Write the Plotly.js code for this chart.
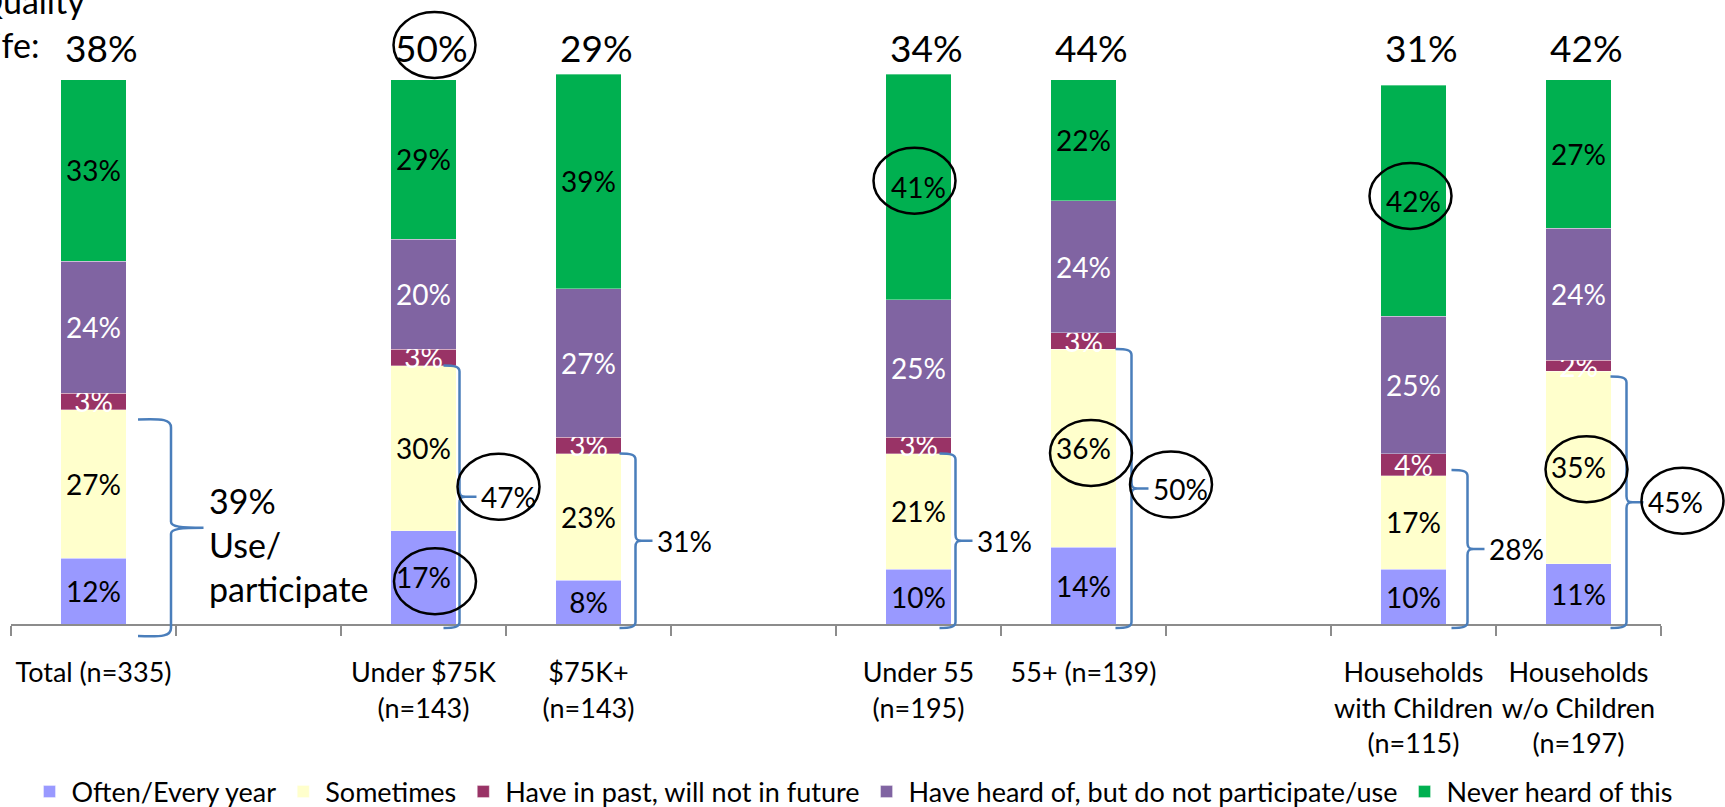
<!DOCTYPE html>
<html>
<head>
<meta charset="utf-8">
<script src="https://cdn.plot.ly/plotly-3.0.1.min.js"></script>
<style>
html,body{margin:0;padding:0;background:#fff;}
#chart{width:1725px;height:807px;}
</style>
</head>
<body>
<div id="chart"></div>
<script>
// ---------------- DATA ----------------
const categories = [
  'Total (n=335)', ' ', 'Under $75K<br>(n=143)', '$75K+<br>(n=143)', '  ',
  'Under 55<br>(n=195)', '55+ (n=139)', '   ',
  'Households<br>with Children<br>(n=115)', 'Households<br>w/o Children<br>(n=197)'
];
const seriesNames = [
  'Often/Every year', 'Sometimes', 'Have in past, will not in future',
  'Have heard of, but do not participate/use', 'Never heard of this'
];
const often      = [12, null, 17,  8, null, 10, 14, null, 10, 11];
const sometimes  = [27, null, 30, 23, null, 21, 36, null, 17, 35];
const pastNot    = [ 3, null,  3,  3, null,  3,  3, null,  4,  2];
const heardOf    = [24, null, 20, 27, null, 25, 24, null, 25, 24];
const neverHeard = [33, null, 29, 39, null, 41, 22, null, 42, 27];
const qualityOfLife  = [38, null, 50, 29, null, 34, 44, null, 31, 42];
const useParticipate = [39, null, 47, 31, null, 31, 50, null, 28, 45];
const qualityLabel = 'Quality<br>Life:';
const useLabel = 'Use/<br>participate';

// ---------------- STYLE ----------------
const FONT = 'Lato, "Open Sans", sans-serif';
const seriesValues = [often, sometimes, pastNot, heardOf, neverHeard];
const seriesColors = ['#9999FF', '#FFFFCC', '#993366', '#8064A2', '#00B050'];
const textColors   = ['#000000', '#000000', '#FFFFFF', '#FFFFFF', '#000000'];
const BRACKET_COLOR = '#4A7EBB';

const W = 1725, H = 807;
const M = {l: 11, r: 64, t: 74, b: 183};
const PLOT_W = W - M.l - M.r, PLOT_H = H - M.t - M.b;
const yRange = [0, 100];
const N = categories.length;
const xRange = [-0.5, N - 0.5];
const pxPerUnit = PLOT_H / (yRange[1] - yRange[0]);

// pixel offsets of brackets (from category centre) – style only
const bracketDx = [null, null, 36, 47, null, 37, 48, null, 54, 48];

// helpers: data -> paper coordinates (with pixel offsets)
const xP = (i, dx) => (i - xRange[0]) / (xRange[1] - xRange[0]) + dx / PLOT_W;
const yP = (v, dy) => (v - yRange[0]) / (yRange[1] - yRange[0]) - dy / PLOT_H; // dy>0 = down
const yD = (v, dy) => v - dy / pxPerUnit;

// stacking helpers
function baseOf(s, i) { let b = 0; for (let k = 0; k < s; k++) b += (seriesValues[k][i] || 0); return b; }
function segCenter(s, i) { return baseOf(s, i) + seriesValues[s][i] / 2; }

// ---------------- TRACES ----------------
const traces = seriesNames.map((name, s) => ({
  type: 'bar',
  name: name,
  x: categories,
  y: seriesValues[s],
  marker: {color: seriesColors[s], line: {color: 'rgba(255,255,255,0.35)', width: 1}},
  texttemplate: '%{y}%',
  textposition: 'inside',
  insidetextanchor: 'middle',
  textangle: 0,
  constraintext: 'none',
  textfont: {family: FONT, size: 28, color: textColors[s]},
  hoverinfo: 'skip'
}));

// ---------------- ANNOTATIONS & SHAPES ----------------
const annotations = [];
const shapes = [];
const TOP_LABEL_Y = 1 + (M.t - 48) / PLOT_H;  // centre of top labels

qualityOfLife.forEach((v, i) => {
  if (v == null) return;
  annotations.push({
    xref: 'x', yref: 'paper', x: categories[i], y: TOP_LABEL_Y, xshift: 8,
    xanchor: 'center', yanchor: 'middle', showarrow: false,
    text: v + '%', font: {family: FONT, size: 37, color: '#000'}
  });
});

// left side (cut-off) caption
annotations.push({
  xref: 'paper', yref: 'paper', x: 0, xshift: -M.l - 26, y: 1 + (M.t - 22) / PLOT_H,
  xanchor: 'left', yanchor: 'middle', align: 'left', showarrow: false,
  text: qualityLabel, font: {family: FONT, size: 34, color: '#000'}
});

function bracketMid(i) {
  const yTop = useParticipate[i];
  const yBot = yD(0, 4);
  return (yTop + yBot) / 2;
}

// square-ish brackets for the sub-groups
useParticipate.forEach((v, i) => {
  if (v == null || i === 0) return;
  const L = bracketDx[i];
  const yTop = v, yBot = yD(0, 4), yMid = bracketMid(i);
  const p = (dx, yv, dy) => xP(i, dx).toFixed(5) + ',' + yP(yv, dy).toFixed(5);
  const path =
    'M' + p(L - 16, yTop, 0) + ' C' + p(L - 5, yTop, 0) + ' ' + p(L, yTop, 1) + ' ' + p(L, yTop, 6) +
    ' L' + p(L, yMid, -6) +
    ' C' + p(L, yMid, -1) + ' ' + p(L + 2, yMid, 0) + ' ' + p(L + 6, yMid, 0) +
    ' L' + p(L + 17, yMid, 0) +
    ' M' + p(L + 6, yMid, 0) + ' C' + p(L + 2, yMid, 0) + ' ' + p(L, yMid, 1) + ' ' + p(L, yMid, 6) +
    ' L' + p(L, yBot, -6) +
    ' C' + p(L, yBot, -1) + ' ' + p(L - 5, yBot, 0) + ' ' + p(L - 16, yBot, 0);
  shapes.push({type: 'path', xref: 'paper', yref: 'paper', path: path,
    line: {color: BRACKET_COLOR, width: 2.5}, fillcolor: 'rgba(0,0,0,0)'});
  annotations.push({
    xref: 'x', yref: 'y', x: categories[i], xshift: L + 19, y: yMid,
    xanchor: 'left', yanchor: 'middle', showarrow: false,
    text: v + '%', font: {family: FONT, size: 28, color: '#000'}
  });
});

// curly brace for Total
(function () {
  const i = 0;
  const yTop = yD(useParticipate[i], 10);
  const yBot = yD(0, 12);
  const yMid = (yTop + yBot) / 2;
  const a = 44.5, v = 77.5, q = 110;
  const p = (dx, yv, dy) => xP(i, dx).toFixed(5) + ',' + yP(yv, dy).toFixed(5);
  const path =
    'M' + p(a, yTop, 0) + ' C' + p(a + 25, yTop, -1) + ' ' + p(v, yTop, 0) + ' ' + p(v, yTop, 8) +
    ' L' + p(v, yMid, -6) +
    ' C' + p(v, yMid, -1) + ' ' + p(v + 10, yMid, 0) + ' ' + p(q, yMid, 0) +
    ' C' + p(v + 10, yMid, 0) + ' ' + p(v, yMid, 1) + ' ' + p(v, yMid, 6) +
    ' L' + p(v, yBot, -8) +
    ' C' + p(v, yBot, 0) + ' ' + p(a + 25, yBot, 1) + ' ' + p(a, yBot, 0);
  shapes.push({type: 'path', xref: 'paper', yref: 'paper', path: path,
    line: {color: BRACKET_COLOR, width: 2.5}, fillcolor: 'rgba(0,0,0,0)'});
  annotations.push({
    xref: 'x', yref: 'y', x: categories[i], xshift: 113.5, y: yD(yMid, 17),
    xanchor: 'left', yanchor: 'middle', align: 'left', showarrow: false,
    text: useParticipate[i] + '%<br>' + useLabel, font: {family: FONT, size: 34, color: '#000'}
  });
})();

// highlight circles (style list: which label, pixel offsets)
const circles = [
  {kind: 'quality', idx: 2, dx: 11,   dy: -3},
  {kind: 'use',     idx: 2, dx: 75,   dy: -10},
  {kind: 0,         idx: 2, dx: 11.5, dy: 4},
  {kind: 4,         idx: 5, dx: -4,   dy: -6},
  {kind: 1,         idx: 6, dx: 7.5,  dy: 5},
  {kind: 'use',     idx: 6, dx: 87.5, dy: -4},
  {kind: 4,         idx: 8, dx: -3,   dy: -4.5},
  {kind: 1,         idx: 9, dx: 8,    dy: 2},
  {kind: 'use',     idx: 9, dx: 104,  dy: -1.5}
];
const RX = 41, RY = 33;
circles.forEach(c => {
  let cy; // paper
  if (c.kind === 'quality') cy = TOP_LABEL_Y - c.dy / PLOT_H;
  else if (c.kind === 'use') cy = yP(bracketMid(c.idx), c.dy);
  else cy = yP(segCenter(c.kind, c.idx), c.dy);
  shapes.push({
    type: 'circle', xref: 'paper', yref: 'paper',
    x0: xP(c.idx, c.dx - RX), x1: xP(c.idx, c.dx + RX),
    y0: cy - RY / PLOT_H, y1: cy + RY / PLOT_H,
    line: {color: '#000', width: 2.5}, fillcolor: 'rgba(0,0,0,0)'
  });
});

// ---------------- LAYOUT ----------------
const layout = {
  width: W, height: H, autosize: false,
  margin: {l: M.l, r: M.r, t: M.t, b: M.b, pad: 0, autoexpand: false},
  paper_bgcolor: '#fff', plot_bgcolor: '#fff',
  barmode: 'stack', bargap: 0.605,
  font: {family: FONT, color: '#000'},
  xaxis: {
    type: 'category', range: xRange, autorange: false,
    tickson: 'boundaries', ticks: 'outside', ticklen: 10,
    tickwidth: 2, tickcolor: '#8C8C8C', showline: true, linecolor: '#8C8C8C', linewidth: 2,
    showgrid: false, zeroline: false, fixedrange: true, automargin: false, tickangle: 0,
    tickfont: {family: FONT, size: 27, color: '#000'}, ticklabelstandoff: 24
  },
  yaxis: {range: yRange, autorange: false, visible: false, fixedrange: true, showgrid: false, zeroline: false, automargin: false},
  showlegend: true,
  legend: {
    orientation: 'h', x: (853 - M.l) / PLOT_W, xanchor: 'center',
    y: -(792 - (M.t + PLOT_H)) / PLOT_H, yanchor: 'middle', itemwidth: 34,
    traceorder: 'normal', font: {family: FONT, size: 27, color: '#000'}, bgcolor: 'rgba(0,0,0,0)'
  },
  annotations: annotations,
  shapes: shapes
};

Plotly.newPlot('chart', traces, layout, {displayModeBar: false, staticPlot: true});
</script>
</body>
</html>
